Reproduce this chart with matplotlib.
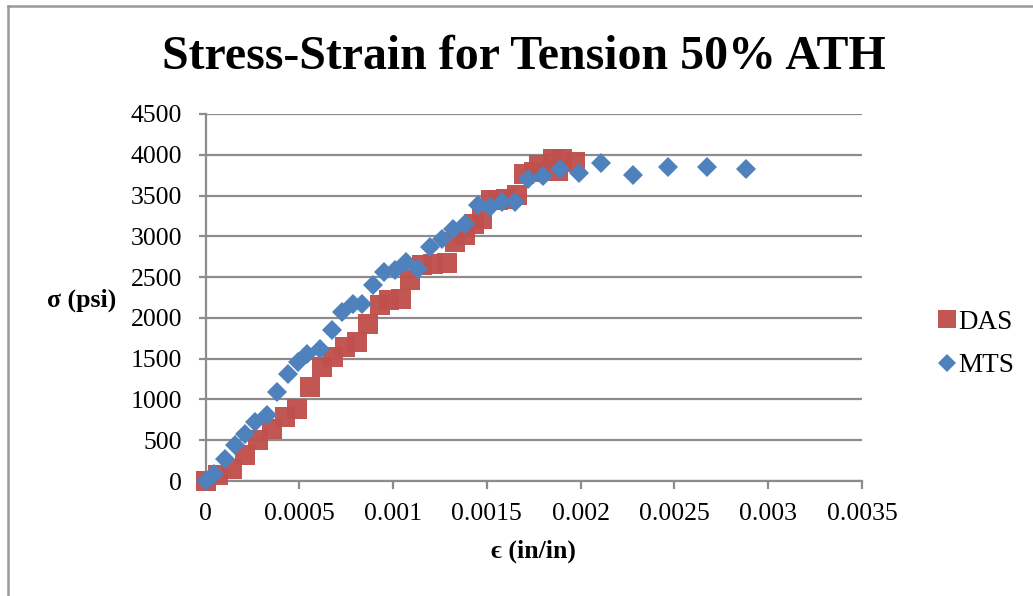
import matplotlib
matplotlib.use("Agg")
import matplotlib.pyplot as plt
from matplotlib.lines import Line2D
from matplotlib.ticker import FixedLocator, FixedFormatter

# DAS readings: strain (in/in) and stress (psi)
das_strain = [0.0, 0.000068, 0.00014, 0.00021, 0.00028, 0.000353, 0.000424,
              0.000486, 0.000557, 0.00062, 0.00068, 0.000744, 0.000806,
              0.000868, 0.00093, 0.00098, 0.00104, 0.00109, 0.001153,
              0.001215, 0.001286, 0.00133, 0.001384, 0.00143, 0.001473,
              0.00152, 0.00156, 0.0016, 0.00166, 0.0017, 0.00175, 0.00178,
              0.00185, 0.0019, 0.00197, 0.00188]
das_stress = [0, 70, 152, 315, 499, 642, 784, 887, 1152, 1397, 1520, 1642,
              1703, 1929, 2153, 2214, 2235, 2460, 2643, 2664, 2672, 2929,
              3011, 3154, 3216, 3440, 3440, 3461, 3501, 3767, 3787, 3869,
              3951, 3951, 3910, 3800]

# MTS readings: strain (in/in) and stress (psi)
mts_strain = [0.0, 0.000045, 0.000104, 0.000157, 0.000211, 0.000264,
              0.000326, 0.00038, 0.000442, 0.000495, 0.00054, 0.000611,
              0.000673, 0.000726, 0.000788, 0.000833, 0.000895, 0.000952,
              0.00101, 0.00107, 0.001135, 0.001197, 0.00126, 0.001322,
              0.001384, 0.001455, 0.001517, 0.00158, 0.00165, 0.00172,
              0.0018, 0.00189, 0.00199, 0.00211, 0.002278, 0.002468,
              0.002676, 0.002883]
mts_stress = [0, 91, 275, 437, 581, 723, 805, 1091, 1316, 1458, 1561, 1622,
              1847, 2071, 2174, 2174, 2398, 2561, 2582, 2684, 2603, 2868,
              2970, 3093, 3154, 3379, 3358, 3419, 3419, 3706, 3734, 3822,
              3775, 3897, 3746, 3848, 3848, 3828]

x_ticks = [0, 0.0005, 0.001, 0.0015, 0.002, 0.0025, 0.003, 0.0035]
x_tick_labels = ["0", "0.0005", "0.001", "0.0015", "0.002", "0.0025",
                 "0.003", "0.0035"]
y_ticks = [0, 500, 1000, 1500, 2000, 2500, 3000, 3500, 4000, 4500]
y_tick_labels = [str(v) for v in y_ticks]

title_text = "Stress-Strain for Tension 50% ATH"
x_label = "\u03f5 (in/in)"
y_label = "\u03c3 (psi)"

RED = "#C0504D"
BLUE = "#4F81BD"
GRID = "#8C8C8C"
SERIF = ["Liberation Serif", "DejaVu Serif"]

plt.rcParams["font.family"] = SERIF

W, H = 1033, 596
fig = plt.figure(figsize=(W / 100, H / 100), dpi=100)
ax = fig.add_axes([205.5 / W, 1 - 481 / H, (862 - 205.5) / W, (481 - 114) / H])

ax.plot(das_strain, das_stress, linestyle="none", marker="s",
        markersize=14, color=RED, markeredgewidth=0, alpha=0.97,
        label="DAS", clip_on=False, zorder=3)
ax.plot(mts_strain, mts_stress, linestyle="none", marker="D",
        markersize=10, color=BLUE, markeredgewidth=0,
        label="MTS", clip_on=False, zorder=4)

ax.set_xlim(0, 0.0035)
ax.set_ylim(0, 4500)
ax.xaxis.set_major_locator(FixedLocator(x_ticks))
ax.xaxis.set_major_formatter(FixedFormatter(x_tick_labels))
ax.yaxis.set_major_locator(FixedLocator(y_ticks))
ax.yaxis.set_major_formatter(FixedFormatter(y_tick_labels))

ax.grid(axis="y", color=GRID, linewidth=1.6)
ax.set_axisbelow(True)
for side in ("top", "right"):
    ax.spines[side].set_visible(False)
for side in ("left", "bottom"):
    ax.spines[side].set_color(GRID)
    ax.spines[side].set_linewidth(1.6)

ax.tick_params(axis="x", direction="out", length=6, width=1.6, color=GRID,
               labelsize=18.5, pad=10)
ax.tick_params(axis="y", direction="out", length=5, width=1.6, color=GRID,
               labelsize=18.5, pad=12)

fig.text(524 / W, 1 - 57 / H, title_text, ha="center", va="center",
         fontsize=34.5, fontweight="bold", family=SERIF)
fig.text(82 / W, 1 - 300 / H, y_label, ha="center", va="center",
         fontsize=18.5, fontweight="bold", family=SERIF)
fig.text(533 / W, 1 - 551 / H, x_label, ha="center", va="center",
         fontsize=18.5, fontweight="bold", family=SERIF)

leg = fig.legend(loc="center left", bbox_to_anchor=(923 / W, 1 - 344 / H),
                 frameon=False, fontsize=19.5, handlelength=0.75,
                 handletextpad=0.05, labelspacing=0.7, borderpad=0)
leg.legend_handles[0].set_markersize(13)
leg.legend_handles[1].set_markersize(9.5)

# Chart frame (left and top edges)
fig.add_artist(Line2D([8 / W, 8 / W], [0, 1 - 5.5 / H],
                      transform=fig.transFigure, color="#999999",
                      linewidth=1.8))
fig.add_artist(Line2D([8 / W, 1], [1 - 5.5 / H, 1 - 5.5 / H],
                      transform=fig.transFigure, color="#999999",
                      linewidth=1.8))

fig.savefig("out.png", dpi=100)
